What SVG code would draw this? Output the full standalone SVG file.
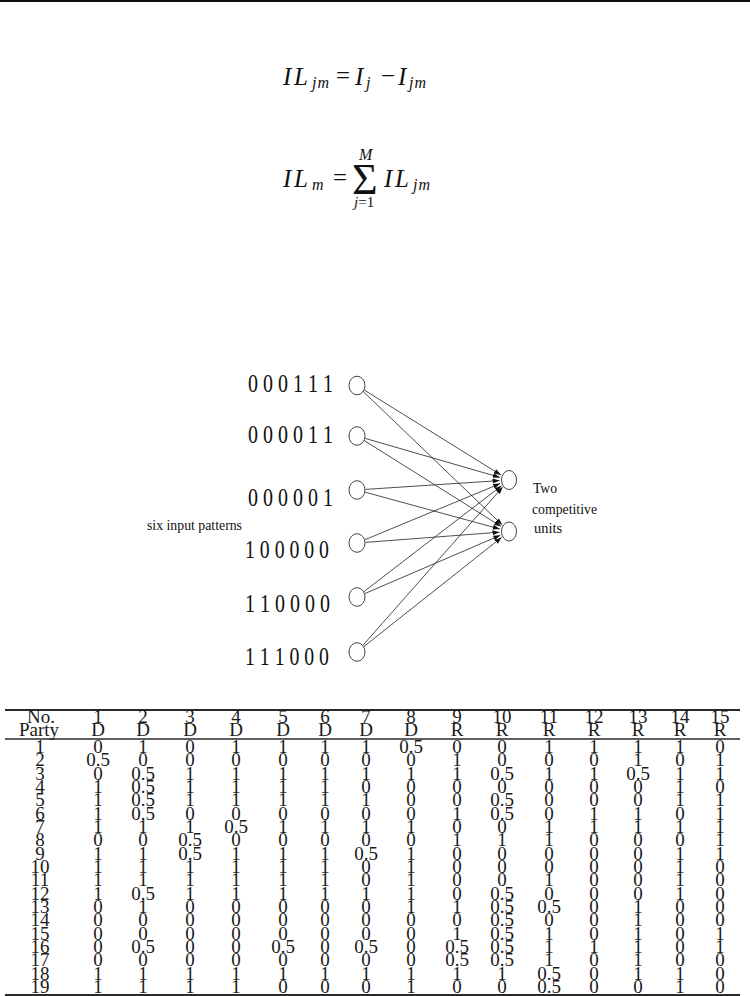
<svg xmlns="http://www.w3.org/2000/svg" width="750" height="996" viewBox="0 0 750 996">
<defs>
<style>
.eq{font-family:"Liberation Serif",serif;font-style:italic;font-size:25px;fill:#111}
.eqs{font-family:"Liberation Serif",serif;font-style:italic;font-size:16px;fill:#111}
.op{font-family:"Liberation Serif",serif;font-size:25px;fill:#111}
.pat{font-family:"Liberation Serif",serif;font-size:25px;fill:#111}
.lbl{font-family:"Liberation Serif",serif;font-size:15.5px;fill:#111}
.node{fill:#fff;stroke:#444;stroke-width:1}
.conn line{stroke:#222;stroke-width:0.8;marker-end:url(#ah)}
.tb{font-family:"Liberation Serif",serif;font-size:19px;fill:#1a1a1a;text-anchor:middle}
.rule{stroke:#2a2a2a}
</style>
<marker id="ah" markerUnits="userSpaceOnUse" markerWidth="7" markerHeight="5" refX="7" refY="2.5" orient="auto">
<path d="M0,0 L7,2.5 L0,5 z" fill="#111"/>
</marker>
</defs>
<rect width="750" height="996" fill="#fff"/>
<rect x="0" y="0" width="750" height="2" fill="#111"/>

<g id="equation1">
<text class="eq" x="283 294" y="85">IL</text>
<text class="eqs" x="312" y="88" letter-spacing="1">jm</text>
<text class="op" x="336" y="84">=</text>
<text class="eq" x="355" y="85">I</text>
<text class="eqs" x="366" y="88">j</text>
<text class="op" x="381" y="84">−</text>
<text class="eq" x="398" y="85">I</text>
<text class="eqs" x="409" y="88" letter-spacing="1">jm</text>
</g>

<g id="equation2">
<text class="eq" x="283 294" y="187">IL</text>
<text class="eqs" x="312" y="190">m</text>
<text class="op" x="333" y="186">=</text>
<text x="352" y="194" style="font-family:'Liberation Serif',serif;font-size:44px;fill:#111">Σ</text>
<text class="eqs" x="359" y="160">M</text>
<text x="354" y="207" style="font-family:'Liberation Serif',serif;font-size:15px;fill:#111"><tspan font-style="italic">j</tspan>=1</text>
<text class="eq" x="384 395" y="187">IL</text>
<text class="eqs" x="413" y="190" letter-spacing="1">jm</text>
</g>

<g id="network-labels">
<text class="pat" x="248" y="392" textLength="85" lengthAdjust="spacingAndGlyphs">0 0 0 1 1 1</text>
<text class="pat" x="248" y="443" textLength="85" lengthAdjust="spacingAndGlyphs">0 0 0 0 1 1</text>
<text class="pat" x="248" y="506" textLength="85" lengthAdjust="spacingAndGlyphs">0 0 0 0 0 1</text>
<text class="pat" x="245" y="558" textLength="84" lengthAdjust="spacingAndGlyphs">1 0 0 0 0 0</text>
<text class="pat" x="245" y="612" textLength="85" lengthAdjust="spacingAndGlyphs">1 1 0 0 0 0</text>
<text class="pat" x="245" y="665" textLength="84" lengthAdjust="spacingAndGlyphs">1 1 1 0 0 0</text>
<text class="lbl" x="147" y="530" textLength="95" lengthAdjust="spacingAndGlyphs">six input patterns</text>
<text class="lbl" x="533" y="492.5" textLength="24" lengthAdjust="spacingAndGlyphs">Two</text>
<text class="lbl" x="532" y="514" textLength="65" lengthAdjust="spacingAndGlyphs">competitive</text>
<text class="lbl" x="534" y="533" textLength="28" lengthAdjust="spacingAndGlyphs">units</text>
</g>

<g id="connectors" class="conn">
<line x1="364.2" y1="390" x2="500.9" y2="475"/>
<line x1="363.1" y1="391.4" x2="502.2" y2="524.9"/>
<line x1="365.2" y1="438.4" x2="499.9" y2="477.4"/>
<line x1="364.2" y1="440.5" x2="501" y2="526.4"/>
<line x1="365.5" y1="489.4" x2="499.5" y2="480.6"/>
<line x1="365.2" y1="492.2" x2="499.8" y2="529"/>
<line x1="364.9" y1="539.7" x2="500.2" y2="483.6"/>
<line x1="365.5" y1="542.4" x2="499.5" y2="532.2"/>
<line x1="363.7" y1="591.8" x2="501.5" y2="485.8"/>
<line x1="364.8" y1="593.6" x2="500.3" y2="535.3"/>
<line x1="362.6" y1="645.6" x2="502.7" y2="487.1"/>
<line x1="363.7" y1="646.7" x2="501.6" y2="537.4"/>
</g>

<g id="in1"><ellipse class="node" cx="357" cy="385.5" rx="8" ry="9.3"/></g>
<g id="in2"><ellipse class="node" cx="357" cy="436" rx="8" ry="9.3"/></g>
<g id="in3"><ellipse class="node" cx="357" cy="490" rx="8" ry="9.3"/></g>
<g id="in4"><ellipse class="node" cx="357" cy="543" rx="8" ry="9.3"/></g>
<g id="in5"><ellipse class="node" cx="357" cy="597" rx="8" ry="9.3"/></g>
<g id="in6"><ellipse class="node" cx="357" cy="652" rx="8" ry="9.3"/></g>
<g id="outA"><ellipse class="node" cx="509" cy="480" rx="7.5" ry="9.5"/></g>
<g id="outB"><ellipse class="node" cx="509" cy="531.5" rx="7.5" ry="9.5"/></g>

<g id="table">
<line class="rule" x1="5" y1="710" x2="740" y2="710" stroke-width="2"/>
<line class="rule" x1="5" y1="739" x2="740" y2="739" stroke-width="1.5"/>
<line class="rule" x1="5" y1="995" x2="740" y2="995" stroke-width="2"/>
<text class="tb" y="723"><tspan x="41">No.</tspan><tspan x="98">1</tspan><tspan x="143">2</tspan><tspan x="190">3</tspan><tspan x="236">4</tspan><tspan x="283">5</tspan><tspan x="325">6</tspan><tspan x="366">7</tspan><tspan x="411">8</tspan><tspan x="457">9</tspan><tspan x="502">10</tspan><tspan x="549">11</tspan><tspan x="594">12</tspan><tspan x="638">13</tspan><tspan x="680">14</tspan><tspan x="720">15</tspan></text>
<text class="tb" y="736"><tspan x="39">Party</tspan><tspan x="98">D</tspan><tspan x="143">D</tspan><tspan x="190">D</tspan><tspan x="236">D</tspan><tspan x="283">D</tspan><tspan x="325">D</tspan><tspan x="366">D</tspan><tspan x="411">D</tspan><tspan x="457">R</tspan><tspan x="502">R</tspan><tspan x="549">R</tspan><tspan x="594">R</tspan><tspan x="638">R</tspan><tspan x="680">R</tspan><tspan x="720">R</tspan></text>
<text class="tb" y="753"><tspan x="40">1</tspan><tspan x="98">0</tspan><tspan x="143">1</tspan><tspan x="190">0</tspan><tspan x="236">1</tspan><tspan x="283">1</tspan><tspan x="325">1</tspan><tspan x="366">1</tspan><tspan x="411">0.5</tspan><tspan x="457">0</tspan><tspan x="502">0</tspan><tspan x="549">1</tspan><tspan x="594">1</tspan><tspan x="638">1</tspan><tspan x="680">1</tspan><tspan x="720">0</tspan></text>
<text class="tb" y="766.3"><tspan x="40">2</tspan><tspan x="98">0.5</tspan><tspan x="143">0</tspan><tspan x="190">0</tspan><tspan x="236">0</tspan><tspan x="283">0</tspan><tspan x="325">0</tspan><tspan x="366">0</tspan><tspan x="411">0</tspan><tspan x="457">1</tspan><tspan x="502">0</tspan><tspan x="549">0</tspan><tspan x="594">0</tspan><tspan x="638">1</tspan><tspan x="680">0</tspan><tspan x="720">1</tspan></text>
<text class="tb" y="779.7"><tspan x="40">3</tspan><tspan x="98">0</tspan><tspan x="143">0.5</tspan><tspan x="190">1</tspan><tspan x="236">1</tspan><tspan x="283">1</tspan><tspan x="325">1</tspan><tspan x="366">1</tspan><tspan x="411">1</tspan><tspan x="457">1</tspan><tspan x="502">0.5</tspan><tspan x="549">1</tspan><tspan x="594">1</tspan><tspan x="638">0.5</tspan><tspan x="680">1</tspan><tspan x="720">1</tspan></text>
<text class="tb" y="793"><tspan x="40">4</tspan><tspan x="98">1</tspan><tspan x="143">0.5</tspan><tspan x="190">1</tspan><tspan x="236">1</tspan><tspan x="283">1</tspan><tspan x="325">1</tspan><tspan x="366">0</tspan><tspan x="411">0</tspan><tspan x="457">0</tspan><tspan x="502">0</tspan><tspan x="549">0</tspan><tspan x="594">0</tspan><tspan x="638">0</tspan><tspan x="680">1</tspan><tspan x="720">0</tspan></text>
<text class="tb" y="806.3"><tspan x="40">5</tspan><tspan x="98">1</tspan><tspan x="143">0.5</tspan><tspan x="190">1</tspan><tspan x="236">1</tspan><tspan x="283">1</tspan><tspan x="325">1</tspan><tspan x="366">1</tspan><tspan x="411">0</tspan><tspan x="457">0</tspan><tspan x="502">0.5</tspan><tspan x="549">0</tspan><tspan x="594">0</tspan><tspan x="638">0</tspan><tspan x="680">1</tspan><tspan x="720">1</tspan></text>
<text class="tb" y="819.7"><tspan x="40">6</tspan><tspan x="98">1</tspan><tspan x="143">0.5</tspan><tspan x="190">0</tspan><tspan x="236">0</tspan><tspan x="283">0</tspan><tspan x="325">0</tspan><tspan x="366">0</tspan><tspan x="411">0</tspan><tspan x="457">1</tspan><tspan x="502">0.5</tspan><tspan x="549">0</tspan><tspan x="594">1</tspan><tspan x="638">1</tspan><tspan x="680">0</tspan><tspan x="720">1</tspan></text>
<text class="tb" y="833"><tspan x="40">7</tspan><tspan x="98">1</tspan><tspan x="143">1</tspan><tspan x="190">1</tspan><tspan x="236">0.5</tspan><tspan x="283">1</tspan><tspan x="325">1</tspan><tspan x="366">1</tspan><tspan x="411">1</tspan><tspan x="457">0</tspan><tspan x="502">0</tspan><tspan x="549">1</tspan><tspan x="594">1</tspan><tspan x="638">1</tspan><tspan x="680">1</tspan><tspan x="720">1</tspan></text>
<text class="tb" y="846.3"><tspan x="40">8</tspan><tspan x="98">0</tspan><tspan x="143">0</tspan><tspan x="190">0.5</tspan><tspan x="236">0</tspan><tspan x="283">0</tspan><tspan x="325">0</tspan><tspan x="366">0</tspan><tspan x="411">0</tspan><tspan x="457">1</tspan><tspan x="502">1</tspan><tspan x="549">1</tspan><tspan x="594">0</tspan><tspan x="638">0</tspan><tspan x="680">0</tspan><tspan x="720">1</tspan></text>
<text class="tb" y="859.7"><tspan x="40">9</tspan><tspan x="98">1</tspan><tspan x="143">1</tspan><tspan x="190">0.5</tspan><tspan x="236">1</tspan><tspan x="283">1</tspan><tspan x="325">1</tspan><tspan x="366">0.5</tspan><tspan x="411">1</tspan><tspan x="457">0</tspan><tspan x="502">0</tspan><tspan x="549">0</tspan><tspan x="594">0</tspan><tspan x="638">0</tspan><tspan x="680">1</tspan><tspan x="720">1</tspan></text>
<text class="tb" y="873"><tspan x="40">10</tspan><tspan x="98">1</tspan><tspan x="143">1</tspan><tspan x="190">1</tspan><tspan x="236">1</tspan><tspan x="283">1</tspan><tspan x="325">1</tspan><tspan x="366">0</tspan><tspan x="411">1</tspan><tspan x="457">0</tspan><tspan x="502">0</tspan><tspan x="549">0</tspan><tspan x="594">0</tspan><tspan x="638">0</tspan><tspan x="680">1</tspan><tspan x="720">0</tspan></text>
<text class="tb" y="886.3"><tspan x="40">11</tspan><tspan x="98">1</tspan><tspan x="143">1</tspan><tspan x="190">1</tspan><tspan x="236">1</tspan><tspan x="283">1</tspan><tspan x="325">1</tspan><tspan x="366">0</tspan><tspan x="411">1</tspan><tspan x="457">0</tspan><tspan x="502">0</tspan><tspan x="549">1</tspan><tspan x="594">0</tspan><tspan x="638">0</tspan><tspan x="680">1</tspan><tspan x="720">0</tspan></text>
<text class="tb" y="899.7"><tspan x="40">12</tspan><tspan x="98">1</tspan><tspan x="143">0.5</tspan><tspan x="190">1</tspan><tspan x="236">1</tspan><tspan x="283">1</tspan><tspan x="325">1</tspan><tspan x="366">1</tspan><tspan x="411">1</tspan><tspan x="457">0</tspan><tspan x="502">0.5</tspan><tspan x="549">0</tspan><tspan x="594">0</tspan><tspan x="638">0</tspan><tspan x="680">1</tspan><tspan x="720">0</tspan></text>
<text class="tb" y="913"><tspan x="40">13</tspan><tspan x="98">0</tspan><tspan x="143">1</tspan><tspan x="190">0</tspan><tspan x="236">0</tspan><tspan x="283">0</tspan><tspan x="325">0</tspan><tspan x="366">0</tspan><tspan x="411">1</tspan><tspan x="457">1</tspan><tspan x="502">0.5</tspan><tspan x="549">0.5</tspan><tspan x="594">0</tspan><tspan x="638">1</tspan><tspan x="680">0</tspan><tspan x="720">0</tspan></text>
<text class="tb" y="926.3"><tspan x="40">14</tspan><tspan x="98">0</tspan><tspan x="143">0</tspan><tspan x="190">0</tspan><tspan x="236">0</tspan><tspan x="283">0</tspan><tspan x="325">0</tspan><tspan x="366">0</tspan><tspan x="411">0</tspan><tspan x="457">0</tspan><tspan x="502">0.5</tspan><tspan x="549">0</tspan><tspan x="594">0</tspan><tspan x="638">1</tspan><tspan x="680">0</tspan><tspan x="720">0</tspan></text>
<text class="tb" y="939.7"><tspan x="40">15</tspan><tspan x="98">0</tspan><tspan x="143">0</tspan><tspan x="190">0</tspan><tspan x="236">0</tspan><tspan x="283">0</tspan><tspan x="325">0</tspan><tspan x="366">0</tspan><tspan x="411">0</tspan><tspan x="457">1</tspan><tspan x="502">0.5</tspan><tspan x="549">1</tspan><tspan x="594">0</tspan><tspan x="638">1</tspan><tspan x="680">0</tspan><tspan x="720">1</tspan></text>
<text class="tb" y="953"><tspan x="40">16</tspan><tspan x="98">0</tspan><tspan x="143">0.5</tspan><tspan x="190">0</tspan><tspan x="236">0</tspan><tspan x="283">0.5</tspan><tspan x="325">0</tspan><tspan x="366">0.5</tspan><tspan x="411">0</tspan><tspan x="457">0.5</tspan><tspan x="502">0.5</tspan><tspan x="549">1</tspan><tspan x="594">1</tspan><tspan x="638">1</tspan><tspan x="680">0</tspan><tspan x="720">1</tspan></text>
<text class="tb" y="966.3"><tspan x="40">17</tspan><tspan x="98">0</tspan><tspan x="143">0</tspan><tspan x="190">0</tspan><tspan x="236">0</tspan><tspan x="283">0</tspan><tspan x="325">0</tspan><tspan x="366">0</tspan><tspan x="411">0</tspan><tspan x="457">0.5</tspan><tspan x="502">0.5</tspan><tspan x="549">1</tspan><tspan x="594">0</tspan><tspan x="638">1</tspan><tspan x="680">0</tspan><tspan x="720">0</tspan></text>
<text class="tb" y="979.7"><tspan x="40">18</tspan><tspan x="98">1</tspan><tspan x="143">1</tspan><tspan x="190">1</tspan><tspan x="236">1</tspan><tspan x="283">1</tspan><tspan x="325">1</tspan><tspan x="366">1</tspan><tspan x="411">1</tspan><tspan x="457">1</tspan><tspan x="502">1</tspan><tspan x="549">0.5</tspan><tspan x="594">0</tspan><tspan x="638">1</tspan><tspan x="680">1</tspan><tspan x="720">0</tspan></text>
<text class="tb" y="993"><tspan x="40">19</tspan><tspan x="98">1</tspan><tspan x="143">1</tspan><tspan x="190">1</tspan><tspan x="236">1</tspan><tspan x="283">0</tspan><tspan x="325">0</tspan><tspan x="366">0</tspan><tspan x="411">1</tspan><tspan x="457">0</tspan><tspan x="502">0</tspan><tspan x="549">0.5</tspan><tspan x="594">0</tspan><tspan x="638">0</tspan><tspan x="680">1</tspan><tspan x="720">0</tspan></text>
</g>
</svg>
